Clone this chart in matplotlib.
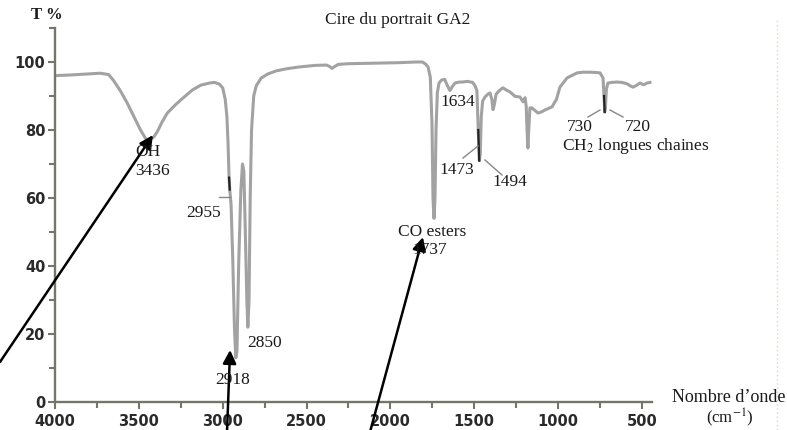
import matplotlib
matplotlib.use("Agg")
import matplotlib.pyplot as plt
from matplotlib.lines import Line2D
import numpy as np

# ---- data ----
wavenumber = [4000, 3900, 3800, 3730, 3680, 3650, 3610, 3570, 3530, 3490, 3460, 3436,
              3410, 3390, 3360, 3330, 3280, 3230, 3180, 3130, 3080, 3050, 3020, 3000,
              2985, 2975, 2968, 2962, 2958, 2950, 2940, 2930, 2922, 2915, 2905, 2892,
              2882, 2874, 2865, 2856, 2850, 2843, 2836, 2828, 2815, 2800, 2770, 2730,
              2680, 2620, 2550, 2450, 2380, 2360, 2348, 2335, 2310, 2250, 2150, 2050,
              1950, 1850, 1810, 1790, 1775, 1762, 1752, 1746, 1740, 1734, 1728, 1720,
              1710, 1695, 1676, 1660, 1645, 1630, 1615, 1590, 1573, 1540, 1510, 1495,
              1484, 1476, 1470, 1464, 1458, 1450, 1436, 1420, 1406, 1395, 1388, 1380,
              1370, 1358, 1340, 1329, 1310, 1287, 1257, 1227, 1209, 1197, 1190, 1185,
              1180, 1175, 1168, 1156, 1120, 1100, 1078, 1036, 1010, 989, 947, 887,
              850, 810, 770, 750, 740, 732, 726, 722, 718, 712, 703, 680, 649, 620,
              589, 570, 553, 530, 512, 490, 470, 452]
transmittance = [96.0, 96.2, 96.5, 96.7, 96.3, 94.5, 91.5, 88.0, 84.0, 80.0, 77.5, 77.0,
                 78.0, 79.5, 82.5, 85.0, 87.5, 89.7, 91.8, 93.2, 93.8, 94.0, 93.5, 92.4,
                 89.0, 84.0, 76.0, 66.0, 62.5, 58.0, 42.0, 22.0, 13.0, 15.0, 40.0, 62.0,
                 70.0, 68.0, 50.0, 30.0, 22.0, 30.0, 60.0, 80.0, 90.0, 93.0, 95.3, 96.5,
                 97.4, 98.0, 98.5, 99.0, 99.1, 98.6, 98.1, 98.6, 99.3, 99.5, 99.6, 99.7,
                 99.8, 100.0, 100.0, 99.4, 98.5, 95.5, 82.0, 60.0, 54.0, 60.0, 80.0, 91.0,
                 93.8, 94.7, 94.9, 93.0, 91.6, 92.8, 93.8, 94.1, 94.1, 94.3, 94.0, 93.0,
                 91.5, 80.0, 71.0, 73.0, 84.0, 88.5, 89.7, 90.5, 90.9, 89.0, 86.0, 87.5,
                 90.5, 91.2, 92.0, 92.4, 91.8, 91.2, 89.9, 89.7, 88.3, 89.5, 87.0, 80.0,
                 74.7, 80.0, 86.5, 86.5, 85.0, 85.3, 85.9, 86.8, 89.0, 92.6, 95.3, 96.8,
                 97.0, 97.0, 96.9, 96.8, 96.0, 95.3, 90.0, 85.3, 86.5, 92.0, 93.8, 94.0,
                 94.1, 94.0, 93.6, 93.0, 92.6, 93.2, 93.8, 93.3, 93.8, 94.0]
dark_ranges = [(2964, 2954), (1477, 1466), (1184, 1176), (727, 719)]

x_major = [4000, 3500, 3000, 2500, 2000, 1500, 1000, 500]
x_minor = [3750, 3250, 2750, 2250, 1750, 1250, 750]
y_major = [0, 20, 40, 60, 80, 100]
y_minor = [10, 30, 50, 70, 90, 110]

W, H = 787, 430
fig = plt.figure(figsize=(W / 100, H / 100), dpi=100)
ax = fig.add_axes([55 / W, (H - 402) / H, 597 / W, (402 - 28) / H])

wn = np.array(wavenumber)
tr = np.array(transmittance)
ax.plot(wn, tr, color="#a2a2a2", lw=2.2, solid_joinstyle="round")
for hi, lo in dark_ranges:
    m = (wn <= hi) & (wn >= lo)
    ax.plot(wn[m], tr[m], color="#222222", lw=1.6)

ax.set_xlim(4000, 440)
ax.set_ylim(0, 110)
for s in ["top", "right"]:
    ax.spines[s].set_visible(False)
axcol = "#75756a"
for s in ["left", "bottom"]:
    ax.spines[s].set_color(axcol)
    ax.spines[s].set_linewidth(1.7)
ax.set_xticks(x_major)
ax.set_xticks(x_minor, minor=True)
ax.set_yticks(y_major)
ax.set_yticks(y_minor, minor=True)
ax.tick_params(axis="both", which="major", direction="out", length=5, width=1.5,
               color=axcol, labelsize=10.5, labelcolor="#2a2a2a")
ax.tick_params(axis="both", which="minor", direction="out", length=4, width=1.5,
               color=axcol)
ax.tick_params(axis="x", pad=4)
ax.tick_params(axis="y", pad=2)
for lab in ax.get_xticklabels() + ax.get_yticklabels():
    lab.set_fontfamily("DejaVu Sans")
    lab.set_fontweight("bold")

plt.rcParams["mathtext.fontset"] = "stix"
serif = "Liberation Serif"


def px(x, y):
    return x / W, 1 - y / H


def t(x, y, s, size=12.5, ha="center", **kw):
    fig.text(*px(x, y), s, ha=ha, va="center", fontsize=size,
             family=serif, color="#1a1a1a", **kw)


t(398, 20, "Cire du portrait GA2", 12.5)
t(47, 15, "T %", 12, fontweight="bold")
t(148, 152, "OH")
t(152, 171, "3436")
t(204, 213, "2955")
t(265, 343, "2850")
t(233, 380, "2918")
t(458, 102, "1634")
t(457, 170, "1473")
t(510, 182, "1494")
t(580, 127, "730")
t(638, 127, "720")
t(636, 146, "CH$_2$ longues chaines")
t(432, 232, "CO esters")
t(430, 250, "1737")
t(672, 398, "Nombre d\u2019onde", 13, ha="left")
t(730, 418, "(cm$^{-1}$)", 12)

# leader lines
for (x0, y0, x1, y1) in [(463, 158, 478, 146), (485, 160, 502, 175),
                         (588, 117, 600, 110), (610, 110, 623, 117),
                         (219, 197, 230, 197)]:
    fig.add_artist(Line2D([x0 / W, x1 / W], [1 - y0 / H, 1 - y1 / H],
                          transform=fig.transFigure, color="#888888", lw=1.0))

# dotted frame line on right
fig.add_artist(Line2D([777 / W, 777 / W], [0, 1 - 20 / H], transform=fig.transFigure,
                      color="#d8d8c0", lw=1.0, ls=(0, (1, 2))))

# black arrows
arrow = dict(arrowstyle="-|>", color="black", lw=1.8, mutation_scale=20,
             shrinkA=0, shrinkB=0)
for tip, tail in [((3416, 78.5), (0, H - 362)),
                  ((2956, 15.3), (227, -2)),
                  ((1806, 48.5), (370, -2))]:
    ax.annotate("", xy=tip, xycoords="data", xytext=tail,
                textcoords="figure pixels", arrowprops=arrow,
                annotation_clip=False)

fig.savefig("out.png", dpi=100)
